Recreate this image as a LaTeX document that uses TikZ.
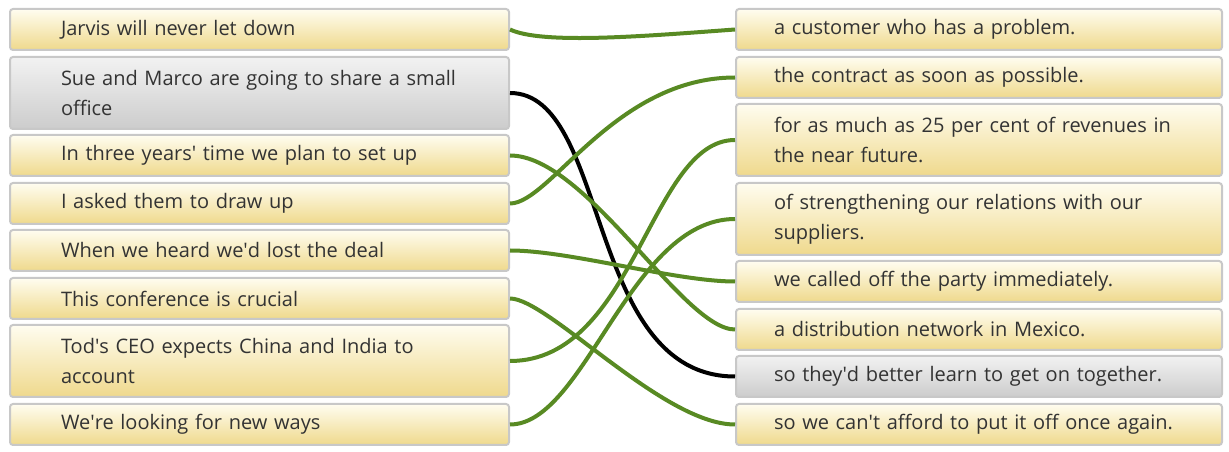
\documentclass[tikz,border=0pt]{standalone}
\usepackage{fontspec}
\setmainfont{Open Sans}
\definecolor{leaf}{RGB}{88,138,35}
\definecolor{ink}{RGB}{51,51,51}
\definecolor{edge}{RGB}{200,200,200}
\definecolor{creamtop}{RGB}{255,253,240}
\definecolor{creambot}{RGB}{239,217,140}
\definecolor{greytop}{RGB}{242,242,242}
\definecolor{greybot}{RGB}{204,204,204}
\newcommand{\ap}{\textquotesingle}
\begin{document}
\begin{tikzpicture}[x=0.75pt,y=-0.75pt,line join=round,font=\fontsize{15pt}{22.5pt}\selectfont,
box/.style={draw=edge,line width=1.5pt,rounded corners=2.25pt,anchor=north west,align=left,text=ink,minimum height=30.75pt,inner ysep=0pt},
lbox/.style={box,minimum width=374.25pt,text width=297.75pt,inner xsep=38.25pt},
rbox/.style={box,minimum width=364.5pt,text width=307.5pt,inner xsep=28.5pt},
gold/.style={top color=creamtop,bottom color=creambot},
grey/.style={top color=greytop,bottom color=greybot},
tall/.style={minimum height=54pt},
wire/.style={line width=3pt,leaf}]
\useasboundingbox (0,0) rectangle (1229,452);
% left column
\node[lbox,gold] (l1) at (9,8) {Jarvis will never let down};
\node[lbox,grey,tall] (l2) at (9,56) {Sue and Marco are going to share a small\\office};
\node[lbox,gold] (l3) at (9,134) {In three years\ap{} time we plan to set up};
\node[lbox,gold] (l4) at (9,182) {I asked them to draw up};
\node[lbox,gold] (l5) at (9,229) {When we heard we\ap d lost the deal};
\node[lbox,gold] (l6) at (9,277) {This conference is crucial};
\node[lbox,gold,tall] (l7) at (9,324) {Tod\ap s CEO expects China and India to\\account};
\node[lbox,gold] (l8) at (9,403) {We\ap re looking for new ways};
% right column
\node[rbox,gold] (r1) at (735,8) {a customer who has a problem.};
\node[rbox,gold] (r2) at (735,56) {the contract as soon as possible.};
\node[rbox,gold,tall] (r3) at (735,103) {for as much as 25 per cent of revenues in\\the near future.};
\node[rbox,gold,tall] (r4) at (735,182) {of strengthening our relations with our\\suppliers.};
\node[rbox,gold] (r5) at (735,260) {we called off the party immediately.};
\node[rbox,gold] (r6) at (735,308) {a distribution network in Mexico.};
\node[rbox,grey] (r7) at (735,355) {so they\ap d better learn to get on together.};
\node[rbox,gold] (r8) at (735,403) {so we can\ap t afford to put it off once again.};
% matches
\draw[wire] (l1.east) .. controls +(32,15) and +(-95,7) .. (r1.west);
\draw[wire,black] (l2.east) .. controls +(100,0) and +(-150,0) .. (r7.west);
\draw[wire] (l3.east) .. controls +(76,0) and +(-52,0) .. (r6.west);
\draw[wire] (l4.east) .. controls +(40,0) and +(-120,0) .. (r2.west);
\draw[wire] (l5.east) .. controls +(60,0) and +(-60,0) .. (r5.west);
\draw[wire] (l6.east) .. controls +(38,0) and +(-72,0) .. (r8.west);
\draw[wire] (l7.east) .. controls +(125,0) and +(-85,0) .. (r3.west);
\draw[wire] (l8.east) .. controls +(75,0) and +(-105,0) .. (r4.west);
\end{tikzpicture}
\end{document}
